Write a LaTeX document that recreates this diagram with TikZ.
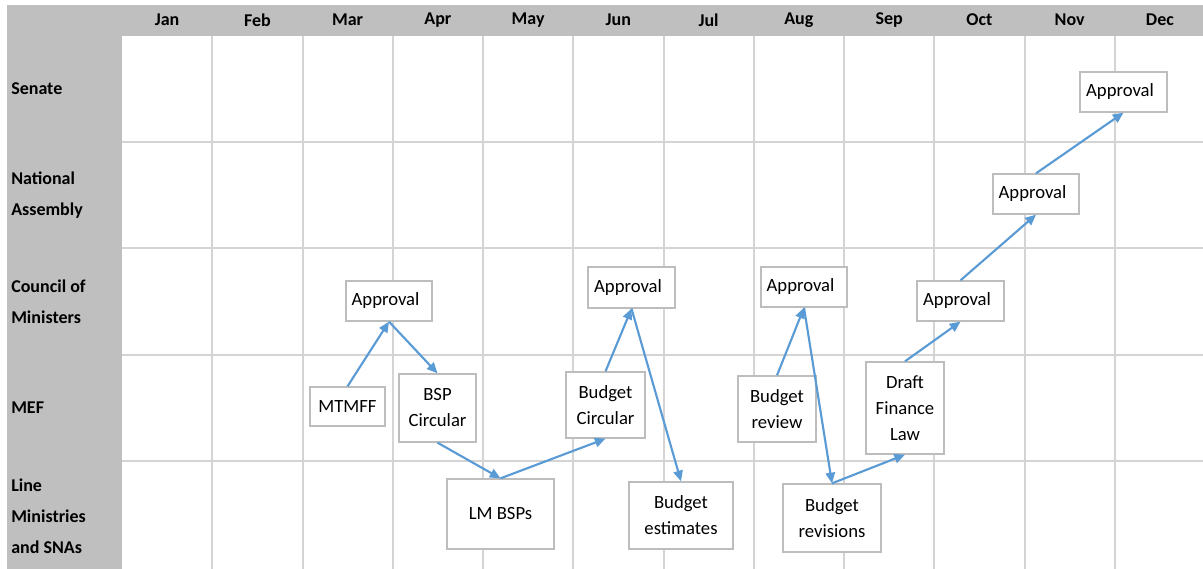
\documentclass[tikz,border=0pt]{standalone}
\usepackage{fontspec}
\setmainfont{Carlito}
\usetikzlibrary{arrows.meta}

\definecolor{headgray}{HTML}{BFBFBF}
\definecolor{gridgray}{HTML}{D4D4D4}
\definecolor{boxgray}{HTML}{BDBDBD}
\definecolor{arrowblue}{HTML}{5B9BD5}

\begin{document}
\begin{tikzpicture}[x=0.75pt, y=-0.75pt,
  every node/.style={font=\fontsize{14}{19.5}\selectfont},
  rowlabel/.style={anchor=west, align=left, inner sep=0pt,
    font=\fontsize{13.5}{23.25}\selectfont\bfseries},
  month/.style={font=\fontsize{13.5}{16}\selectfont\bfseries},
  gridline/.style={draw=gridgray, line width=1.5pt},
  stepbox/.style={draw=boxgray, fill=white, line width=1pt, inner sep=2pt, align=center},
  boxdim/.style 2 args={minimum width=#1*0.75pt, minimum height=#2*0.75pt},
  approval/.style={stepbox, boxdim={86}{40}, text width=56pt, align=left},
  flow/.style={draw=arrowblue, line width=1.6pt, -{Triangle[length=8pt,width=7pt]}}]

  \def\cols{12}
  \def\rows{5}
  \def\cellx{90.25}
  \def\celly{106.2}
  \def\gx{122}
  \def\gy{36}

  \pgfmathtruncatemacro{\lastcol}{\cols-1}
  \pgfmathtruncatemacro{\lastrow}{\rows-1}

  \useasboundingbox (0,0) rectangle (1203,568);

  % header row and label column
  \fill[headgray] (7,5) rectangle (1210,\gy);
  \fill[headgray] (7,5) rectangle (\gx,570);

  \foreach \x in {1,...,\lastcol} {
    \draw[gridline] ({\gx+\x*\cellx},\gy) -- ({\gx+\x*\cellx},570);
  }
  \foreach \y in {1,...,\lastrow} {
    \draw[gridline] (\gx,{\gy+\y*\celly}) -- (1210,{\gy+\y*\celly});
  }

  \foreach \m [count=\i from 0] in {Jan,Feb,Mar,Apr,May,Jun,Jul,Aug,Sep,Oct,Nov,Dec} {
    \node[month] (m\i) at ({\gx+(\i+0.5)*\cellx},20) {\m};
  }

  \node[rowlabel] (senate) at (11,89)  {Senate};
  \node[rowlabel] (assembly) at (11,195) {National\\Assembly};
  \node[rowlabel] (council) at (11,302) {Council of\\Ministers};
  \node[rowlabel] (mef) at (11,408) {MEF};
  \node[rowlabel] (lines) at (11,516) {Line\\Ministries\\and SNAs};

  % steps of the cycle
  \node[approval] (apprA) at (389,301) {Approval};
  \node[stepbox, boxdim={75}{39}] (mtmff) at (347.5,406.5) {MTMFF};
  \node[stepbox, boxdim={77}{68}] (bsp) at (437.5,408) {BSP\\Circular};
  \node[stepbox, boxdim={107}{70}] (lmbsp) at (500.5,514) {LM BSPs};
  \node[stepbox, boxdim={79}{66}] (budcirc) at (605.5,405) {Budget\\Circular};
  \node[approval, boxdim={87}{41}] (apprB) at (631.5,287.5) {Approval};
  \node[stepbox, boxdim={104}{67}] (budest) at (681,515.5) {Budget\\estimates};
  \node[approval] (apprC) at (804,287) {Approval};
  \node[stepbox, boxdim={78}{66}] (budrev) at (777,409) {Budget\\review};
  \node[stepbox, boxdim={98}{68}] (budrevs) at (832,518) {Budget\\revisions};
  \node[stepbox, boxdim={78}{92}] (draft) at (905,408) {Draft\\Finance\\Law};
  \node[approval, boxdim={87}{40}] (apprD) at (960.5,301) {Approval};
  \node[approval] (apprE) at (1036,194) {Approval};
  \node[approval, boxdim={87}{40}] (apprF) at (1123.5,92) {Approval};

  \draw[flow] (mtmff.north) -- (apprA.south);
  \draw[flow] (apprA.south) -- (bsp.north);
  \draw[flow] (bsp.south) -- (lmbsp.north);
  \draw[flow] (lmbsp.north) -- (budcirc.south);
  \draw[flow] (budcirc.north) -- (apprB.south);
  \draw[flow] (apprB.south) -- (budest.north);
  \draw[flow] (budrev.north) -- (apprC.south);
  \draw[flow] (apprC.south) -- (budrevs.north);
  \draw[flow] (budrevs.north) -- (draft.south);
  \draw[flow] (draft.north) -- (apprD.south);
  \draw[flow] (apprD.north) -- (apprE.south);
  \draw[flow] (apprE.north) -- (apprF.south);
\end{tikzpicture}
\end{document}
